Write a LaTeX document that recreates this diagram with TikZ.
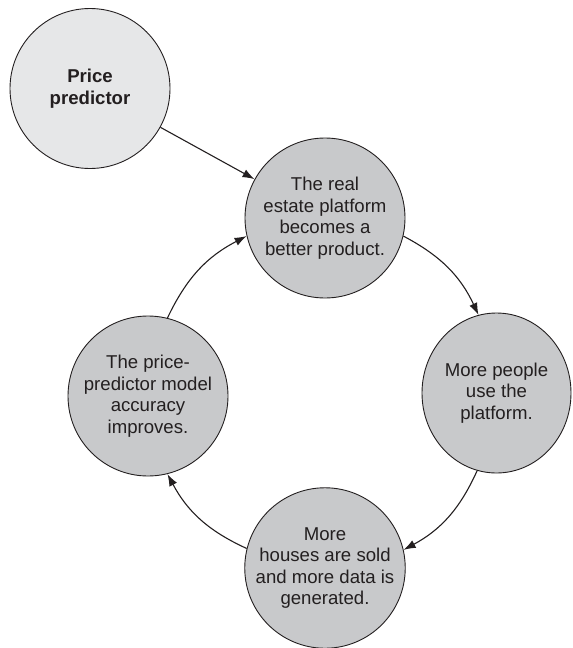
\documentclass[tikz,border=0pt]{standalone}
\usepackage{fontspec}
\setmainfont{Liberation Sans}
\usetikzlibrary{arrows.meta,shapes.geometric}
\definecolor{lightfill}{RGB}{230,231,232}
\definecolor{mainfill}{RGB}{200,201,203}
\definecolor{edgecol}{RGB}{35,31,32}
\begin{document}
\begin{tikzpicture}[x=1pt,y=-1pt,
  bubble/.style={circle, draw=edgecol, line width=0.9pt, fill=mainfill, minimum size=160pt, inner sep=0pt, align=center, text=edgecol, font=\fontsize{18.6pt}{21.5pt}\selectfont},
  flow/.style={draw=edgecol, line width=1.1pt, -{Latex[length=12pt,width=8.5pt]}}]
\useasboundingbox (0,0) rectangle (573,648);
\node[bubble, fill=lightfill, font=\fontsize{18.6pt}{22.5pt}\selectfont\bfseries] (pp) at (90,88.5) {Price\\predictor};
\node[bubble] (top) at (325,218) {The real\\estate platform\\becomes a\\better product.};
\node[bubble, ellipse, minimum width=149pt, minimum height=160pt] (right) at (496.5,393) {More people\\use the\\platform.};
\node[bubble] (bottom) at (325,568) {More\\houses are sold\\and more data is\\generated.};
\node[bubble] (left) at (148,396) {The price-\\predictor model\\accuracy\\improves.};
\draw[flow] (pp) -- (top);
\draw[flow] (top.-13.2) to[bend left=18.6] (right.103.2);
\draw[flow] (right.256.8) to[bend left=18.6] (bottom.13.2);
\draw[flow] (bottom.166.8) to[bend left=18.6] (left.-76.8);
\draw[flow] (left.76.8) to[bend left=18.6] (top.193.2);
\end{tikzpicture}
\end{document}
